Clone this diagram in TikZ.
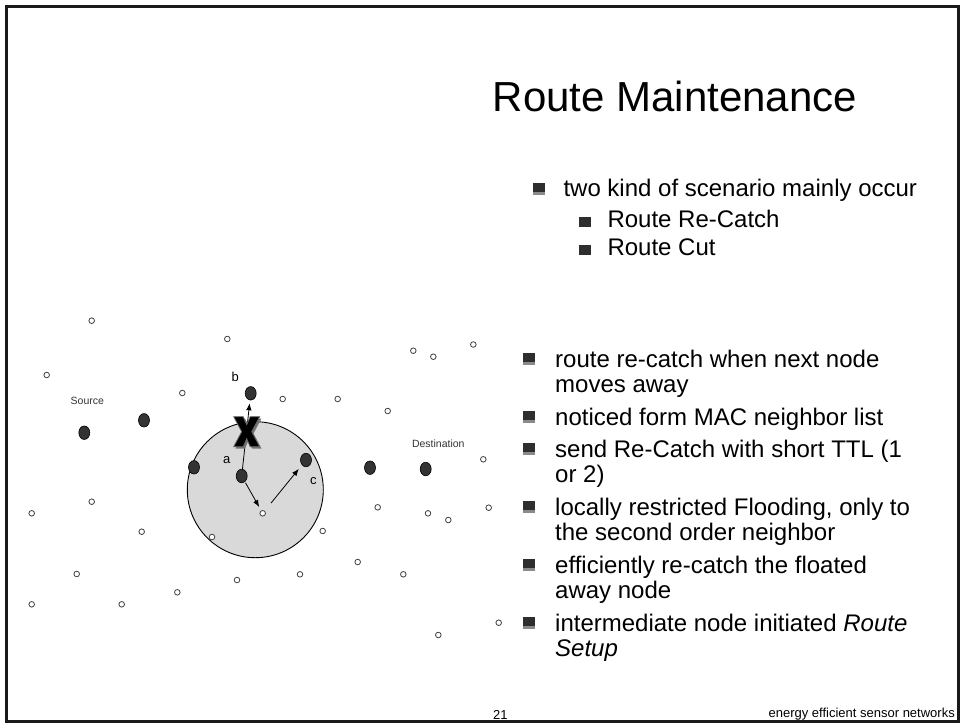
\documentclass[tikz,border=0pt]{standalone}
\usepackage{fontspec}
\setmainfont{Liberation Sans}
\usetikzlibrary{arrows.meta,shapes.geometric}
\definecolor{relayfill}{HTML}{333333}
\definecolor{zonefill}{HTML}{D9D9D9}
\definecolor{bulletdark}{HTML}{2E2E2E}
\definecolor{bulletlow}{HTML}{8A8A8A}

\begin{document}
\begin{tikzpicture}[x=1pt,y=-1pt,
  txt/.style={inner sep=0pt,anchor=base west,font=\fontsize{24}{25}\selectfont},
  sqbullet/.style={anchor=south west,inner sep=0pt,minimum width=12pt,minimum height=12pt,
    fill=bulletdark,path picture={\fill[bulletlow] (path picture bounding box.south west)
      rectangle ([yshift=2.5pt]path picture bounding box.south east);}},
  subbullet/.style={anchor=south west,inner sep=0pt,minimum width=12.5pt,minimum height=10pt,fill=bulletdark},
  sensor/.style={circle,inner sep=0pt,minimum size=5.6pt,draw=black!75,fill=white,line width=0.8pt},
  relay/.style={ellipse,inner sep=0pt,minimum width=11pt,minimum height=13.5pt,fill=relayfill,draw=black,line width=0.6pt},
  zone/.style={circle,inner sep=0pt,minimum size=136pt,fill=zonefill,draw=black,line width=0.9pt},
  hoparrow/.style={-{Latex[length=7pt,width=5.5pt]},line width=0.8pt},
  letter/.style={inner sep=0pt,font=\fontsize{13}{13}\selectfont},
  place/.style={inner sep=0pt,font=\fontsize{10.5}{10.5}\selectfont,text=black!80},
  footer/.style={inner sep=0pt,font=\fontsize{13}{13}\selectfont}]
\useasboundingbox (0,0) rectangle (966,724);

% slide frame
\draw[line width=2.6pt,black!90] (6.5,6.5) rectangle (958.5,721.5);

% title
\node[txt,font=\fontsize{42}{42}\selectfont] (title) at (492.7,111) {Route Maintenance};

% first list
\node[sqbullet] (b0) at (533,195) {};
\node[txt] (t0) at (563.3,196) {two kind of scenario mainly occur};
\node[subbullet] (b0a) at (578.3,226.7) {};
\node[txt] (t0a) at (607.3,227) {Route Re-Catch};
\node[subbullet] (b0b) at (578.3,254.7) {};
\node[txt] (t0b) at (607.3,255) {Route Cut};

% second list
\node[sqbullet] (b1) at (523,365) {};
\node[txt] (t1a) at (555,367) {route re-catch when next node};
\node[txt] (t1b) at (555,392) {moves away};
\node[sqbullet] (b2) at (523,423) {};
\node[txt] (t2a) at (555,425) {noticed form MAC neighbor list};
\node[sqbullet] (b3) at (523,455) {};
\node[txt] (t3a) at (555,457) {send Re-Catch with short TTL (1};
\node[txt] (t3b) at (555,482) {or 2)};
\node[sqbullet] (b4) at (523,513) {};
\node[txt] (t4a) at (555,515) {locally restricted Flooding, only to};
\node[txt] (t4b) at (555,540) {the second order neighbor};
\node[sqbullet] (b5) at (523,571) {};
\node[txt] (t5a) at (555,573) {efficiently re-catch the floated};
\node[txt] (t5b) at (555,598) {away node};
\node[sqbullet] (b6) at (523,629) {};
\node[txt] (t6a) at (555,631) {intermediate node initiated \textit{Route}};
\node[txt] (t6b) at (555,656) {\textit{Setup}};

% neighbourhood of the broken link
\node[zone] (zone) at (255.3,489.7) {};

% scattered sensors
\foreach \x/\y [count=\i] in {91.7/320.7, 46.7/375, 182.3/393, 91.7/501.7, 31.7/513.3,
    141.7/531.7, 76.7/574, 177.3/592.3, 31.7/604.3, 121.7/604.3, 227.3/339,
    413.3/350.7, 433.3/356.7, 473.3/344.5, 282.7/399, 337.7/399, 387.7/411,
    483.3/459.3, 377.7/507.3, 428/513.3, 448.3/520, 488.7/507.7, 322.7/531,
    357.7/562, 403.3/574.3, 300/574.3, 498.7/622.7, 438.3/635, 212/537, 237/580}
  \node[sensor] (s\i) at (\x,\y) {};
\node[sensor] (hop) at (262.7,513.3) {};

% route nodes
\node[relay] (src) at (84.3,432.7) {};
\node[relay] (r1) at (144,420.3) {};
\node[relay] (r2) at (194,467.3) {};
\node[relay] (na) at (241.7,476) {};
\node[relay] (nb) at (250.7,393.3) {};
\node[relay] (nc) at (306,460) {};
\node[relay] (r5) at (370,467.7) {};
\node[relay] (dst) at (425.7,469) {};

% moves of the re-catch
\draw[hoparrow,shorten >=3pt] (na) -- (nb);
\draw[hoparrow,shorten <=1pt,shorten >=4pt] (na) -- (hop);
\draw[hoparrow,shorten <=10pt,shorten >=5pt] (hop) -- (nc);

% broken link mark
\coordinate (cut) at (246.7,431.7);
\begin{scope}[shift={(cut)}]
  \fill[black!55,shift={(1.8,1.8)}] (-13,-15) -- (-3.5,-15) -- (0,-7) -- (3.5,-15) -- (13,-15) -- (5,0)
    -- (13,15) -- (3.5,15) -- (0,7) -- (-3.5,15) -- (-13,15) -- (-5,0) -- cycle;
  \filldraw[fill=black,draw=black!60,line width=0.8pt] (-13,-15) -- (-3.5,-15) -- (0,-7) -- (3.5,-15) -- (13,-15) -- (5,0)
    -- (13,15) -- (3.5,15) -- (0,7) -- (-3.5,15) -- (-13,15) -- (-5,0) -- cycle;
\end{scope}

% labels
\node[letter] (la) at (226.7,460) {a};
\node[letter] (lb) at (235.3,377) {b};
\node[letter] (lc) at (313.3,480.7) {c};
\node[place] (lsrc) at (87.3,401) {Source};
\node[place] (ldst) at (438.3,443.3) {Destination};

% footer
\node[footer,anchor=base east] (foot) at (955,717) {energy efficient sensor networks};
\node[footer,anchor=base west] (pageno) at (493,719.5) {21};
\end{tikzpicture}
\end{document}
